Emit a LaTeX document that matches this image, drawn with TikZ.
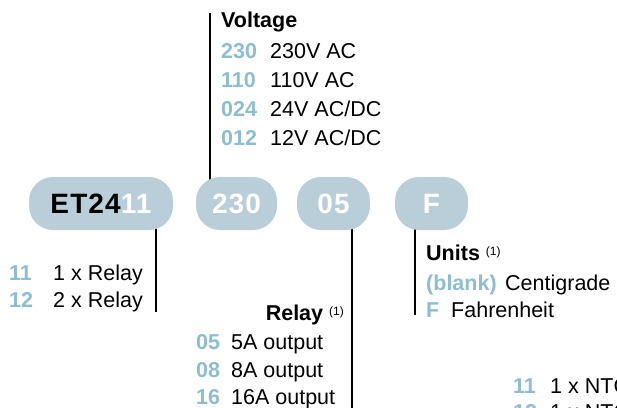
\documentclass[tikz,border=0pt]{standalone}
\usepackage{fontspec}
\setmainfont{Liberation Sans}
\newfontfamily\pillfont[LetterSpace=4]{Liberation Sans}
\usepackage{xcolor}
\usepackage{tikz}
\usetikzlibrary{backgrounds}
\definecolor{pillbg}{HTML}{B9CED8}
\definecolor{codeblue}{HTML}{8DBDD1}
\newcommand{\noteone}{\raisebox{5pt}{\fontsize{12}{12}\mdseries\selectfont(1)}}

\begin{document}
\begin{tikzpicture}[
    x=1pt, y=-1pt,
    every node/.style={inner sep=0pt, font=\fontsize{21.5}{26}\selectfont},
    pill/.style={fill=pillbg, rounded corners=24pt, minimum height=53pt,
                 text=white, font=\pillfont\bfseries\fontsize{28}{30}\selectfont},
    leader/.style={line width=2.2pt, black},
    code/.style={anchor=base west, text=codeblue,
                 font=\bfseries\fontsize{21.5}{26}\selectfont},
    item/.style={anchor=base west},
    head/.style={anchor=base west, font=\bfseries\fontsize{21.5}{26}\selectfont}
  ]
    \useasboundingbox (0,0) rectangle (617,407);
    \clip (0,0) rectangle (617,407);

    % part number pills
    \node[pill, minimum width=144pt] (pET) at (101,203.5)
      {\textcolor{black}{ET24}11};
    \node[pill, minimum width=81pt] (pVolt) at (236.5,203.5) {230};
    \node[pill, minimum width=73pt] (pRelay) at (333.5,203.5) {05};
    \node[pill, minimum width=73pt] (pUnit) at (431.5,203.5) {F};

    % leader ends
    \coordinate (voltTop) at (210,13);
    \coordinate (etEnd) at (156,312);
    \coordinate (relayEnd) at (352,415);
    \coordinate (unitEnd) at (415,315);

    \begin{scope}[on background layer]
      \draw[leader] (pVolt.center -| voltTop) -- (voltTop);
      \draw[leader] (pET.center -| etEnd) -- (etEnd);
      \draw[leader] (pRelay.center -| relayEnd) -- (relayEnd);
      \draw[leader] (pUnit.center -| unitEnd) -- (unitEnd);
    \end{scope}

    % voltage
    \node[head] (voltHead) at (221,27) {Voltage};
    \foreach \y/\c/\t [count=\i] in {58/230/230V AC, 87/110/110V AC,
                                     116/024/{24V AC/DC}, 145/012/{12V AC/DC}} {
      \node[code] (voltCode\i) at (221,\y) {\c};
      \node[item] (voltText\i) at (270,\y) {\t};
    }

    % relay count
    \foreach \y/\c/\t [count=\i] in {280/11/1 x Relay, 307/12/2 x Relay} {
      \node[code] (etCode\i) at (9,\y) {\c};
      \node[item] (etText\i) at (53,\y) {\t};
    }

    % relay output
    \node[head, anchor=base east] (relayHead) at (344,320) {Relay \noteone};
    \foreach \y/\c/\t [count=\i] in {349/05/5A output, 377/08/8A output,
                                     404/16/16A output} {
      \node[code] (relayCode\i) at (196,\y) {\c};
      \node[item] (relayText\i) at (231,\y) {\t};
    }

    % units
    \node[head] (unitHead) at (426,260) {Units \noteone};
    \node[code] (unitCode1) at (426,290) {(blank)};
    \node[item] (unitText1) at (505,290) {Centigrade};
    \node[code] (unitCode2) at (426,317) {F};
    \node[item] (unitText2) at (451,317) {Fahrenheit};

    % sensor
    \foreach \y/\c/\t [count=\i] in {393/11/1 x NTC, 419/12/1 x NTC} {
      \node[code] (sensCode\i) at (513,\y) {\c};
      \node[item] (sensText\i) at (550,\y) {\t};
    }
  \end{tikzpicture}
\end{document}
